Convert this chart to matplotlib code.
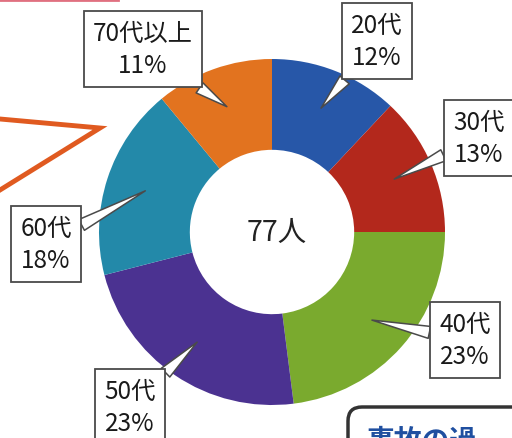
import numpy as np
import matplotlib
matplotlib.use("Agg")
import matplotlib.pyplot as plt
from matplotlib.patches import FancyBboxPatch
from matplotlib.lines import Line2D

plt.rcParams['font.family'] = ['Noto Sans CJK JP', 'DejaVu Sans']

# ---- data ----
categories = ["20代", "30代", "40代", "50代", "60代", "70代以上"]
percent = [12, 13, 23, 23, 18, 11]
total_people = 77
center_label = f"{total_people}人"
colors = ["#2757a8", "#b3281c", "#7aaa2e", "#4b3291", "#2389a9", "#e2731f"]

# ---- layout (pixels) ----
W, H = 512, 439
cx, cy, R = 272, 233, 173          # donut center / outer radius in px (from top)
box_centers = [(377, 42), (479, 139), (465, 341), (130, 408), (46, 245), (143, 50)]

fig = plt.figure(figsize=(W / 100, H / 100), dpi=100)
fig.patch.set_facecolor("white")
ax = fig.add_axes([0, 0, 1, 1])
ax.pie(percent, colors=colors, startangle=90, counterclock=False,
       radius=1.0, wedgeprops=dict(width=0.525, edgecolor="none"))
ax.set_aspect("auto")
ax.set_xlim(-cx / R, (W - cx) / R)
ax.set_ylim(-(H - cy) / R, cy / R)
ax.axis("off")

ax.text(0.03, 0.0, center_label, ha="center", va="center", fontsize=20.5,
        color="#222222")

# callouts
cum = np.cumsum(percent)
mids = (cum - np.array(percent) / 2) / cum[-1] * 360.0
r_tip = 0.77
for lab, p, ang, (bx, by) in zip(categories, percent, mids, box_centers):
    th = np.deg2rad(ang)
    tip = (r_tip * np.sin(th), r_tip * np.cos(th))
    ax.annotate(f"{lab}\n{p}%", xy=tip, xytext=(bx, H - by),
                textcoords="figure pixels", ha="center", va="center",
                fontsize=17.5, color="#1a1a1a", linespacing=1.3,
                bbox=dict(boxstyle="square,pad=0.38", fc="white",
                          ec="#4a4a4a", lw=1.3),
                arrowprops=dict(arrowstyle="wedge,tail_width=0.5",
                                fc="white", ec="#4a4a4a", lw=1.1,
                                shrinkA=0, shrinkB=0))

# decorative remnants of the surrounding slide
fig.add_artist(Line2D([0, 100, 0], [H - 120, H - 129, H - 191],
                      transform=None, color="#e05a20", lw=3.5,
                      solid_joinstyle="miter"))
fig.add_artist(Line2D([0, 118], [H - 1, H - 1], transform=None,
                      color="#e07080", lw=2))
box_top = 408
fig.add_artist(FancyBboxPatch((348, -40), 220, (H - box_top) + 40,
                              boxstyle="round,pad=0,rounding_size=14",
                              transform=None, fc="white", ec="#333333",
                              lw=2.5))
fig.text(367, 11, "事故の過", transform=None, ha="left", va="top",
         fontsize=20, color="#1f4fa0", fontweight="bold")

fig.savefig("out.png", dpi=100, facecolor="white")
